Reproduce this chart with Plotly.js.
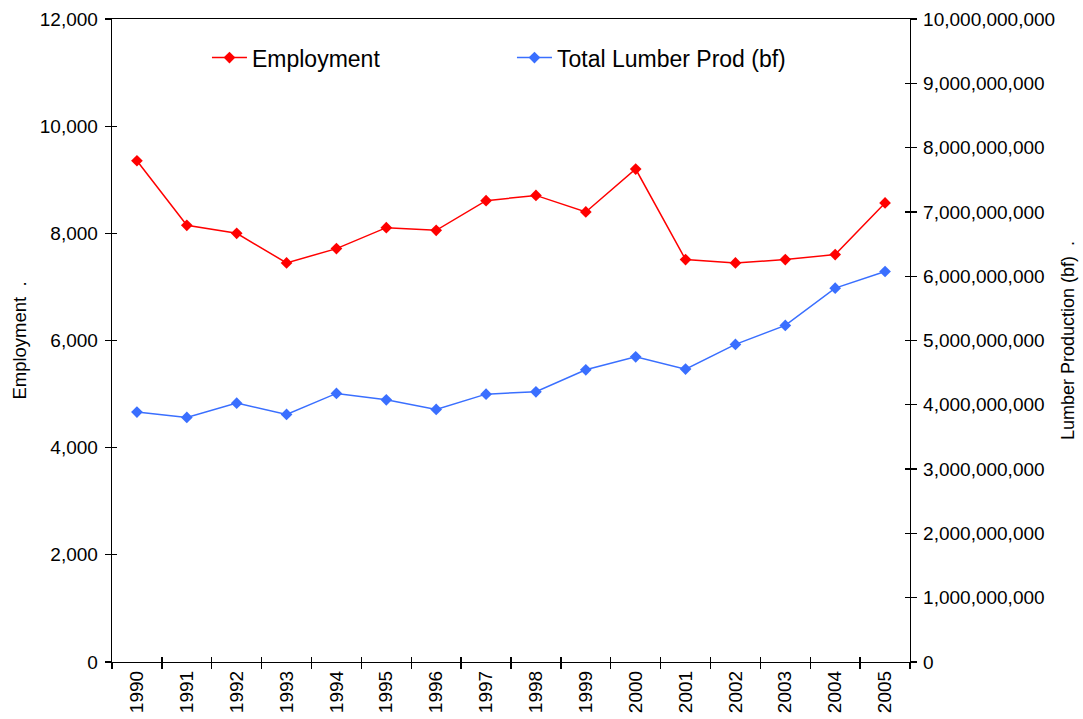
<!DOCTYPE html>
<html>
<head>
<meta charset="utf-8">
<script src="https://cdn.plot.ly/plotly-3.0.1.min.js"></script>
<style>html,body{margin:0;padding:0;background:#fff;}#chart{width:1083px;height:719px;}</style>
</head>
<body>
<div id="chart"></div>
<script>
const years = ['1990','1991','1992','1993','1994','1995','1996','1997','1998','1999','2000','2001','2002','2003','2004','2005'];
const employment = [9355, 8150, 8000, 7448, 7715, 8106, 8056, 8609, 8708, 8399, 9200, 7510, 7448, 7510, 7603, 8567];
const lumberProd = [3887000000, 3803000000, 4026000000, 3851000000, 4177000000, 4078000000, 3928000000, 4166000000, 4202000000, 4544000000, 4746000000, 4555000000, 4939000000, 5234000000, 5814000000, 6073000000];

const fontFam = 'Liberation Sans, Arial, sans-serif';
const tickFont = {family: fontFam, size: 19, color: '#000'};
const traces = [
  {x: years, y: employment, name: 'Employment', type: 'scatter', mode: 'lines+markers',
   line: {color: '#ff0000', width: 1.5}, marker: {symbol: 'diamond', size: 9, color: '#ff0000'}, yaxis: 'y'},
  {x: years, y: lumberProd, name: 'Total Lumber Prod (bf)', type: 'scatter', mode: 'lines+markers',
   line: {color: '#3a6fff', width: 1.5}, marker: {symbol: 'diamond', size: 9, color: '#3a6fff'}, yaxis: 'y2'},
  // invisible helpers so the inner halves of the crossing ticks are drawn
  {x: years, y: employment, type: 'scatter', mode: 'lines', opacity: 0, showlegend: false, hoverinfo: 'skip',
   xaxis: 'x2', yaxis: 'y3'},
  {x: years, y: lumberProd, type: 'scatter', mode: 'lines', opacity: 0, showlegend: false, hoverinfo: 'skip',
   xaxis: 'x2', yaxis: 'y4'}
];
const baseLine = {showline: true, linecolor: '#000', linewidth: 1.3, showgrid: false, zeroline: false,
                  tickwidth: 1.3, tickcolor: '#000'};
const layout = {
  width: 1083, height: 719,
  margin: {l: 112, r: 173, t: 19, b: 57},
  paper_bgcolor: '#fff', plot_bgcolor: '#fff',
  font: {family: fontFam, size: 19, color: '#000'},
  showlegend: true,
  legend: {orientation: 'h', x: 0.119, y: 0.94, xanchor: 'left', yanchor: 'middle',
           font: {family: fontFam, size: 23, color: '#000'}, bgcolor: 'rgba(0,0,0,0)',
           entrywidth: 255, itemwidth: 35},
  xaxis: Object.assign({}, baseLine, {type: 'category', tickson: 'boundaries', ticks: 'outside', ticklen: 6,
          mirror: true, tickangle: -90, tickfont: tickFont, range: [-0.5, 15.5]}),
  xaxis2: Object.assign({}, baseLine, {type: 'category', tickson: 'boundaries', ticks: 'inside', ticklen: 5,
          overlaying: 'x', anchor: 'y', showticklabels: false, range: [-0.5, 15.5]}),
  yaxis: Object.assign({}, baseLine, {range: [0, 12000], dtick: 2000, tickformat: ',d', ticks: 'outside', ticklen: 6,
          tickfont: tickFont, ticklabelstandoff: 3,
          title: {text: 'Employment  .', font: {family: fontFam, size: 18.5, color: '#000'}, standoff: 8}}),
  yaxis3: Object.assign({}, baseLine, {range: [0, 12000], dtick: 2000, ticks: 'inside', ticklen: 5,
          overlaying: 'y', side: 'left', anchor: 'x', showticklabels: false}),
  yaxis2: Object.assign({}, baseLine, {range: [0, 10000000000], dtick: 1000000000, tickformat: ',d', overlaying: 'y', side: 'right',
           ticks: 'outside', ticklen: 6, tickfont: tickFont, ticklabelstandoff: 2,
           title: {text: 'Lumber Production (bf)  .', font: {family: fontFam, size: 18, color: '#000'}, standoff: 7}}),
  yaxis4: Object.assign({}, baseLine, {range: [0, 10000000000], dtick: 1000000000, ticks: 'inside', ticklen: 5,
           overlaying: 'y', side: 'right', anchor: 'x', showticklabels: false})
};
Plotly.newPlot('chart', traces, layout, {displayModeBar: false, staticPlot: true});
</script>
</body>
</html>
